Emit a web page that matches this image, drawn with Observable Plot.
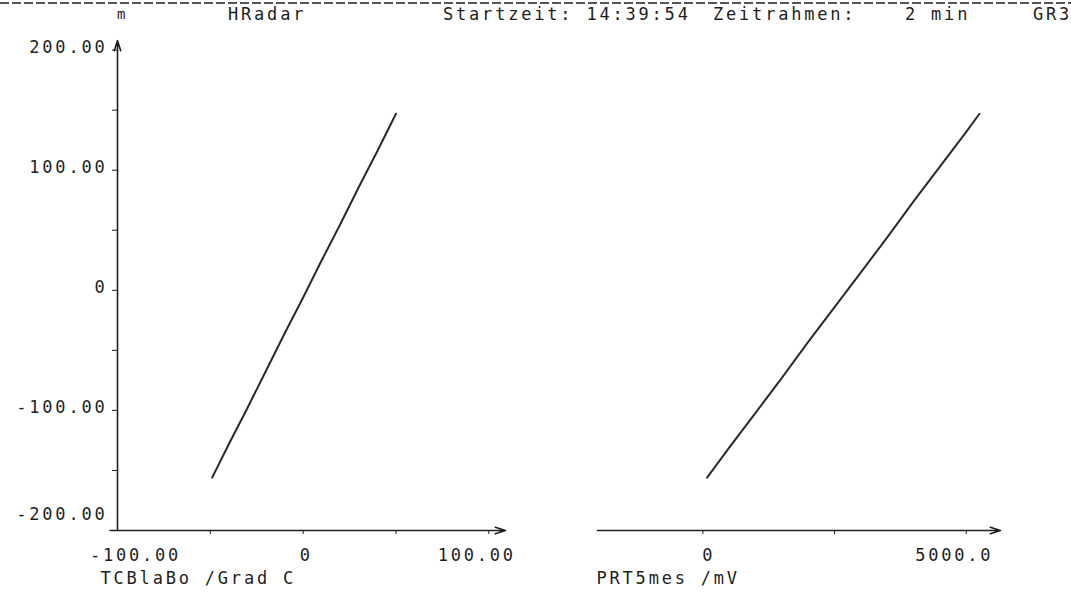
<!DOCTYPE html>
<html>
<head>
<meta charset="utf-8">
<script src="https://cdn.jsdelivr.net/npm/d3@7"></script>
<script src="https://cdn.jsdelivr.net/npm/@observablehq/plot@0.6"></script>
<style>
  body { margin: 0; background: #fff; }
  #wrap { position: relative; width: 1071px; height: 596px; overflow: hidden; background: #fff;
          font-family: "DejaVu Sans Mono", monospace; font-size: 17px; letter-spacing: 2.8px; color: #1e1e1e; }
  .hdr { position: absolute; top: 5px; white-space: pre; line-height: 18px; }
  #dash { position: absolute; top: 2px; left: 0; width: 1071px; height: 2px;
          background: repeating-linear-gradient(to right, #555 0 9px, transparent 9px 12px); }
  #left { position: absolute; left: 0; top: 0; }
  #right { position: absolute; left: 530px; top: 0; }
</style>
</head>
<body>
<div id="wrap">
  <div id="dash"></div>
  <div class="hdr" style="left:117px;font-size:14px;letter-spacing:0">m</div>
  <div class="hdr" style="left:228px">HRadar</div>
  <div class="hdr" style="left:443px">Startzeit: 14:39:54</div>
  <div class="hdr" style="left:713px">Zeitrahmen:</div>
  <div class="hdr" style="left:905px">2 min</div>
  <div class="hdr" style="left:1033px">GR3</div>
  <div id="left"></div>
  <div id="right"></div>
</div>
<script>
// ---- data ----
// left panel: TCBlaBo (°C) vs HRadar (m)
const tcblabo = [-49, -40, -30, -20, -10, 0, 10, 20, 30, 40, 50];
const hradarA = [-156, -128, -98, -67, -36, -6, 25, 55, 86, 116, 147];
// right panel: PRT5mes (mV) vs HRadar (m)
const prt5mes = [80, 500, 1000, 1500, 2000, 2500, 3000, 3500, 4000, 4500, 5000, 5250];
const hradarB = [-156, -131, -102, -73, -43, -14, 15, 44, 74, 103, 132, 147];

// axes
const yDomain = [-200, 208];
const yTicks = [200, 100, 0, -100, -200];
const yTickLabels = ["200.00", "100.00", "0", "-100.00", "-200.00"];
const yMinorTicks = [-200, -150, -100, -50, 0, 50, 100, 150, 200];

const xDomainA = [-100, 109];
const xAxisStartA = -104;
const xMinorTicksA = [-50, 0, 50, 100];
const xTickLabelsA = { "-100": "-100.00", "0": "0", "100": "100.00" };
const xTitleA = "TCBlaBo /Grad C";

const xDomainB = [-2000, 5650];
const xMinorTicksB = [0, 2500, 5000];
const xTickLabelsB = { "0": "0", "5000": "5000.0" };
const xTitleB = "PRT5mes /mV";

const ink = "#1e1e1e";
const font = { fontFamily: "'DejaVu Sans Mono', monospace", fontSize: "17px", letterSpacing: "2.8px", background: "transparent", color: ink };

const ptsA = tcblabo.map((x, i) => ({ x, y: hradarA[i] }));
const ptsB = prt5mes.map((x, i) => ({ x, y: hradarB[i] }));
const yLab = yTicks.map((v, i) => ({ v, t: yTickLabels[i] }));
const lab = (obj, key) => [{ v: +key, t: obj[key] }];

const arrowStyle = { stroke: ink, strokeWidth: 1.6, headLength: 10, headAngle: 35 };
const xLabelY = () => yDomain[0];
const tickDy = 25, titleDy = 53;

const left = Plot.plot({
  width: 530, height: 596,
  marginLeft: 117, marginRight: 25, marginTop: 40, marginBottom: 66,
  style: font,
  x: { domain: xDomainA, axis: null },
  y: { domain: yDomain, axis: null },
  marks: [
    Plot.axisX({ ticks: xMinorTicksA, tickSize: 4, tickFormat: () => "", label: null, stroke: ink }),
    Plot.axisY({ ticks: yMinorTicks, tickSize: 5, tickFormat: () => "", label: null, stroke: ink }),
    Plot.arrow([{ x1: xAxisStartA, x2: xDomainA[1], y: yDomain[0] }],
      { x1: "x1", x2: "x2", y1: "y", y2: "y", ...arrowStyle }),
    Plot.arrow([{ x: xDomainA[0], y1: yDomain[0], y2: yDomain[1] }],
      { x1: "x", x2: "x", y1: "y1", y2: "y2", ...arrowStyle }),
    Plot.text(yLab.filter(d => d.v !== yDomain[0]), { x: () => xDomainA[0], y: "v", text: "t", textAnchor: "end", dx: -10, dy: -3, fill: ink }),
    Plot.text(yLab.filter(d => d.v === yDomain[0]), { x: () => xDomainA[0], y: "v", text: "t", textAnchor: "end", dx: -10, dy: -16, fill: ink }),
    Plot.text(lab(xTickLabelsA, "-100"), { x: "v", y: xLabelY, text: "t", textAnchor: "middle", dx: 18, dy: tickDy, fill: ink }),
    Plot.text(lab(xTickLabelsA, "0"), { x: "v", y: xLabelY, text: "t", textAnchor: "middle", dx: 3, dy: tickDy, fill: ink }),
    Plot.text(lab(xTickLabelsA, "100"), { x: "v", y: xLabelY, text: "t", textAnchor: "middle", dx: -12, dy: tickDy, fill: ink }),
    Plot.text([xTitleA], { frameAnchor: "bottom-left", text: d => d, textAnchor: "start", dx: -17, dy: titleDy, fill: ink }),
    Plot.line(ptsA, { x: "x", y: "y", stroke: "#2a2a2a", strokeWidth: 2 })
  ]
});
document.getElementById("left").appendChild(left);

const right = Plot.plot({
  width: 541, height: 596,
  marginLeft: 67, marginRight: 71, marginTop: 40, marginBottom: 66,
  style: font,
  x: { domain: xDomainB, axis: null },
  y: { domain: yDomain, axis: null },
  marks: [
    Plot.axisX({ ticks: xMinorTicksB, tickSize: 4, tickFormat: () => "", label: null, stroke: ink }),
    Plot.arrow([{ x1: xDomainB[0], x2: xDomainB[1], y: yDomain[0] }],
      { x1: "x1", x2: "x2", y1: "y", y2: "y", ...arrowStyle }),
    Plot.text(lab(xTickLabelsB, "0"), { x: "v", y: xLabelY, text: "t", textAnchor: "middle", dx: 6, dy: tickDy, fill: ink }),
    Plot.text(lab(xTickLabelsB, "5000"), { x: "v", y: xLabelY, text: "t", textAnchor: "middle", dx: -12, dy: tickDy, fill: ink }),
    Plot.text([xTitleB], { frameAnchor: "bottom-left", text: d => d, textAnchor: "start", dx: -1, dy: titleDy, fill: ink }),
    Plot.line(ptsB, { x: "x", y: "y", stroke: "#2a2a2a", strokeWidth: 2 })
  ]
});
document.getElementById("right").appendChild(right);
</script>
</body>
</html>
